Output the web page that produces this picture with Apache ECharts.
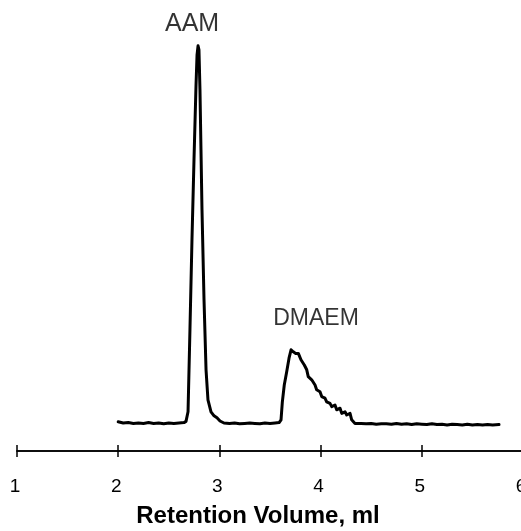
<!DOCTYPE html>
<html>
<head>
<meta charset="utf-8">
<script src="https://cdn.jsdelivr.net/npm/echarts@6/dist/echarts.min.js"></script>
<style>
  html, body { margin: 0; padding: 0; background: #ffffff; }
  #chart { width: 521px; height: 531px; }
</style>
</head>
<body>
<div id="chart"></div>
<script>
// Chromatogram: detector signal (arbitrary units) versus retention volume (ml)
const retentionVolume = [
  2.00, 2.05, 2.10, 2.15, 2.20, 2.25, 2.30, 2.35, 2.40, 2.45, 2.50, 2.55, 2.60, 2.65,
  2.670, 2.690, 2.709, 2.729, 2.749, 2.769, 2.779, 2.789, 2.798, 2.808, 2.818, 2.828,
  2.848, 2.868, 2.887, 2.917, 2.947, 2.976, 3.006, 3.045,
  3.10, 3.15, 3.20, 3.25, 3.30, 3.35, 3.40, 3.45, 3.50, 3.55, 3.59,
  3.609, 3.622, 3.641, 3.665, 3.688, 3.708, 3.730, 3.754, 3.780, 3.806, 3.839, 3.863,
  3.878, 3.912, 3.945, 3.961, 3.994, 4.011, 4.043, 4.060, 4.093, 4.110, 4.142, 4.159,
  4.192, 4.209, 4.241, 4.258, 4.291, 4.307, 4.340, 4.40,
  4.45, 4.50, 4.55, 4.60, 4.65, 4.70, 4.75, 4.80, 4.85, 4.90, 4.95, 5.00, 5.05, 5.10,
  5.15, 5.20, 5.25, 5.30, 5.35, 5.40, 5.45, 5.50, 5.55, 5.60, 5.65, 5.70, 5.763
];
const signal = [
  7.3, 7.0, 7.1, 6.9, 7.0, 6.9, 7.1, 6.9, 7.0, 6.8, 7.0, 6.9, 7.0, 7.1,
  7.4, 9.8, 30.3, 52.8, 72.8, 91.5, 99.0, 101.3, 100.3, 90.3, 75.3, 60.3,
  37.8, 20.3, 12.8, 9.8, 8.8, 8.3, 7.5, 7.0,
  6.9, 7.0, 6.8, 6.9, 7.0, 6.9, 6.8, 7.0, 6.9, 7.0, 7.1,
  7.8, 12.3, 16.5, 19.8, 23.2, 25.3, 24.8, 24.4, 24.4, 22.8, 21.5, 20.3,
  18.6, 17.8, 16.5, 15.3, 14.8, 13.6, 13.2, 12.3, 11.9, 11.1, 11.5, 10.3,
  10.7, 9.4, 9.8, 9.0, 9.4, 7.8, 6.9, 6.9,
  6.8, 6.9, 6.7, 6.8, 6.8, 6.7, 6.9, 6.7, 6.8, 6.6, 6.8, 6.7, 6.6, 6.8,
  6.6, 6.7, 6.5, 6.7, 6.6, 6.5, 6.7, 6.5, 6.6, 6.5, 6.6, 6.5, 6.6
];

// Peak identities, placed above each peak maximum
const peakNames = ['AAM', 'DMAEM'];
const peakVolume = [2.789, 3.708];
const peakSignal = [101.3, 25.3];

const xTicks = [1, 2, 3, 4, 5, 6];
const xTitle = 'Retention Volume, ml';

const trace = retentionVolume.map((v, i) => [v, signal[i]]);

const chart = echarts.init(document.getElementById('chart'), null, { renderer: 'canvas' });

const FONT = 'Liberation Sans, Arial, sans-serif';

// per-label text placement above its peak
const peakLabelStyle = [
  { fontSize: 25, distance: 9, offset: [-6, 0] },
  { fontSize: 23, distance: 20, offset: [25, 0] }
];

const baseAxis = {
  type: 'value',
  min: xTicks[0],
  max: xTicks[xTicks.length - 1],
  interval: 1,
  position: 'bottom',
  splitLine: { show: false },
  axisLine: { show: true, lineStyle: { color: '#000', width: 1.5 } }
};

chart.setOption({
  backgroundColor: '#ffffff',
  animation: false,
  grid: { left: 17, top: 31, width: 506, height: 420, outerBoundsMode: 'none', containLabel: false },
  xAxis: [
    Object.assign({}, baseAxis, {
      axisTick: { show: true, inside: false, length: 6, lineStyle: { color: '#000', width: 1.5 } },
      axisLabel: {
        show: true, margin: 26, color: '#000',
        fontFamily: FONT, fontSize: 19,
        hideOverlap: false, showMaxLabel: true, showMinLabel: true,
        padding: [0, 4, 0, 0],
        formatter: v => String(v)
      },
      name: xTitle,
      nameLocation: 'middle',
      nameGap: 53,
      nameTextStyle: {
        color: '#000', fontFamily: FONT,
        fontSize: 24, fontWeight: 'bold',
        padding: [0, 24, 0, 0]
      }
    }),
    Object.assign({}, baseAxis, {
      axisTick: { show: true, inside: true, length: 6, lineStyle: { color: '#000', width: 1.5 } },
      axisLabel: { show: false }
    })
  ],
  yAxis: { type: 'value', min: 0, max: 105, show: false },
  series: [
    {
      type: 'line',
      xAxisIndex: 0,
      data: trace,
      showSymbol: false,
      smooth: false,
      lineStyle: { color: '#000', width: 3, join: 'round', cap: 'round' },
      z: 3
    },
    {
      type: 'scatter',
      xAxisIndex: 0,
      symbolSize: 0,
      silent: true,
      data: peakNames.map((n, i) => ({
        value: [peakVolume[i], peakSignal[i]],
        name: n,
        label: {
          show: true,
          formatter: n,
          position: 'top',
          distance: peakLabelStyle[i].distance,
          offset: peakLabelStyle[i].offset,
          color: '#000',
          fontFamily: FONT,
          fontSize: peakLabelStyle[i].fontSize
        }
      })),
      z: 4
    }
  ]
});
</script>
</body>
</html>
